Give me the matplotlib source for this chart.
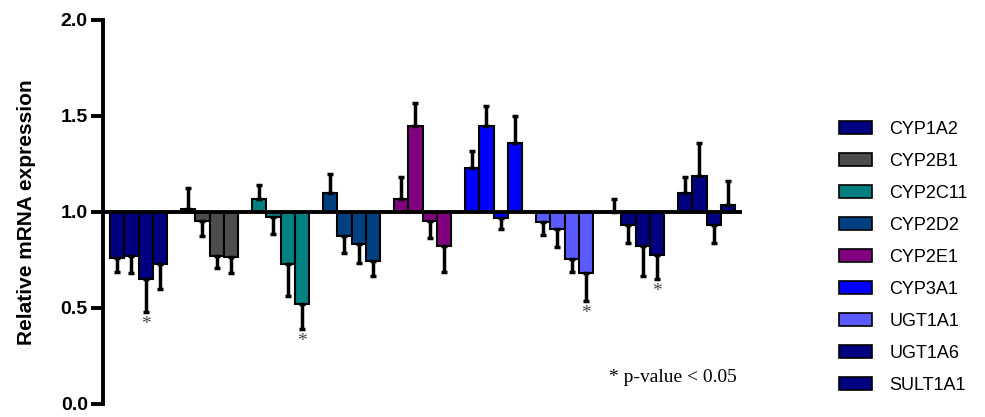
import numpy as np
import matplotlib
matplotlib.use('Agg')
import matplotlib.pyplot as plt
from matplotlib.patches import Patch

# ─── DATA ────────────────────────────────────────────────────────
genes = ['CYP1A2', 'CYP2B1', 'CYP2C11', 'CYP2D2', 'CYP2E1',
         'CYP3A1', 'UGT1A1', 'UGT1A6', 'SULT1A1']
colors = ['#000080', '#4d4d4d', '#008080', '#004080', '#800080',
          '#0000ff', '#5a5aff', '#000080', '#000080']

# relative expression, 4 treatments per gene (control = 1.0)
values = [
    [0.76, 0.77, 0.65, 0.73],
    [1.015, 0.955, 0.77, 0.765],
    [1.07, 0.975, 0.73, 0.52],
    [1.10, 0.875, 0.835, 0.745],
    [1.07, 1.45, 0.955, 0.825],
    [1.23, 1.45, 0.97, 1.36],
    [0.95, 0.91, 0.755, 0.68],
    [1.0, 0.93, 0.825, 0.775],
    [1.10, 1.19, 0.93, 1.035],
]
errors = [
    [0.07, 0.09, 0.17, 0.13],
    [0.11, 0.08, 0.06, 0.085],
    [0.07, 0.09, 0.17, 0.13],
    [0.10, 0.09, 0.10, 0.08],
    [0.11, 0.12, 0.09, 0.14],
    [0.09, 0.10, 0.06, 0.14],
    [0.07, 0.09, 0.07, 0.145],
    [0.07, 0.09, 0.16, 0.125],
    [0.08, 0.17, 0.09, 0.125],
]
# (gene index, treatment index) with p < 0.05
significant = [(0, 2), (2, 3), (6, 3), (7, 3)]

BASE = 1.0
SLOTS = 5  # 4 bars + 1 gap per gene

fig = plt.figure(figsize=(9.85, 4.17), dpi=100)
ax = fig.add_axes([0.1046, 0.0312, 0.6487, 0.9209])

for g, gene in enumerate(genes):
    x = g * SLOTS + np.arange(len(values[g]))
    v = np.array(values[g])
    e = np.array(errors[g])
    ax.bar(x, v - BASE, bottom=BASE, width=1.0, color=colors[g],
           edgecolor='black', linewidth=1.5, zorder=2)
    # one-sided error bars pointing away from baseline
    up = v >= BASE
    lower = np.where(up, 0, e)
    upper = np.where(up, e, 0)
    ax.errorbar(x, v, yerr=[lower, upper], fmt='none', ecolor='black',
                elinewidth=2.5, capsize=2, capthick=2.5, zorder=3)

for g, s in significant:
    x = g * SLOTS + s
    y = values[g][s] - errors[g][s] - 0.02
    ax.text(x, y, '*', ha='center', va='top', fontsize=14,
            family='Liberation Serif', color='#444444')

ax.hlines(BASE, -1, 44, color='black', linewidth=2.8, zorder=4)

ax.set_xlim(-1, 44)
ax.set_ylim(0, 2.0)
ax.set_yticks([0.0, 0.5, 1.0, 1.5, 2.0])
ax.set_yticklabels(['0.0', '0.5', '1.0', '1.5', '2.0'],
                   fontsize=14, fontweight='bold', family='Liberation Sans')
ax.set_xticks([])
for side in ['top', 'right', 'bottom']:
    ax.spines[side].set_visible(False)
ax.spines['left'].set_linewidth(2.8)
ax.tick_params(axis='y', direction='out', length=9, width=2.8, pad=2)
ax.set_ylabel('Relative mRNA expression', fontsize=15, fontweight='bold',
              family='Liberation Sans', labelpad=18)

ax.text(0.792, 0.068, '* p-value < 0.05', transform=ax.transAxes,
        fontsize=14, family='Liberation Serif', ha='left', va='center')

handles = [Patch(facecolor=c, edgecolor='black', linewidth=1.2, label=n)
           for n, c in zip(genes, colors)]
fig.legend(handles=handles, loc='upper left', bbox_to_anchor=(0.8445, 0.728),
           frameon=False, prop={'family': 'Liberation Sans', 'size': 13},
           handlelength=1.85, handleheight=0.75, labelspacing=0.83,
           handletextpad=0.95, borderaxespad=0)

fig.savefig('out.png', dpi=100)
